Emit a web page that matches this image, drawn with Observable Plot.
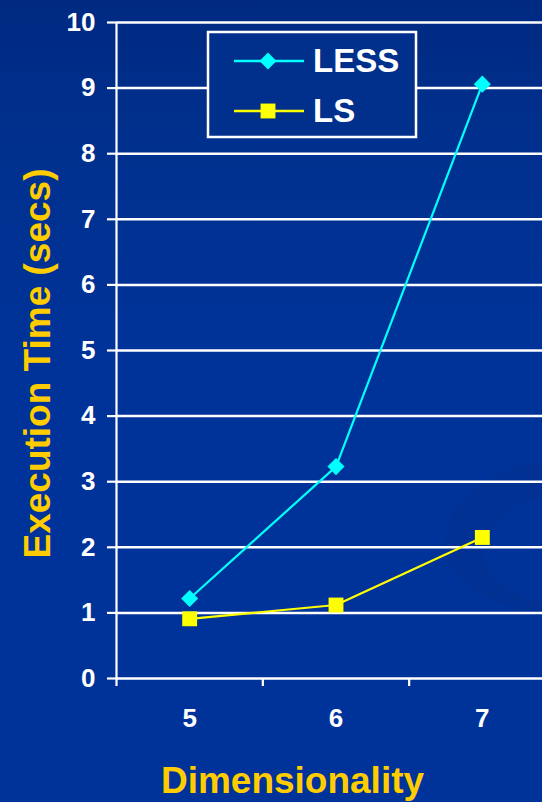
<!DOCTYPE html>
<html>
<head>
<meta charset="utf-8">
<script src="https://cdn.jsdelivr.net/npm/d3@7"></script>
<script src="https://cdn.jsdelivr.net/npm/@observablehq/plot@0.6"></script>
<style>
  html, body { margin: 0; padding: 0; }
  body {
    width: 542px; height: 802px; overflow: hidden; position: relative;
    background: linear-gradient(180deg, #002a82 0%, #003190 22%, #003399 45%, #003399 100%);
    font-family: "Liberation Sans", Arial, sans-serif;
  }
  #deco, #chart { position: absolute; left: 0; top: 0; }
</style>
</head>
<body>
<svg id="deco" width="542" height="802">
  <path d="M542,463 C480,466 436,515 446,556 C456,592 505,608 542,613 L542,602 C508,594 482,574 483,550 C485,524 512,502 542,497 Z" fill="#002f8e" opacity="0.55"/>
</svg>
<div id="chart"></div>
<script>
// Dimensionality of the data set and measured execution times (seconds)
const dims = [5, 6, 7];
const lessTimes = [1.22, 3.23, 9.06];
const lsTimes = [0.91, 1.12, 2.15];

const seriesNames = ["LESS", "LS"];
const seriesColors = ["#00ffff", "#ffff00"];
const seriesSymbols = ["diamond2", "square"];
const seriesRadius = [7.7, 8.4];

const yTicks = [0, 1, 2, 3, 4, 5, 6, 7, 8, 9, 10];
const xTickLabels = dims;
const xBandEdges = [4.5, 5.5, 6.5];

const xTitle = "Dimensionality";
const yTitle = "Execution Time (secs)";

const rows = [
  ...dims.map((d, i) => ({dim: d, time: lessTimes[i], series: "LESS"})),
  ...dims.map((d, i) => ({dim: d, time: lsTimes[i], series: "LS"}))
];

const font = "'Liberation Sans', Arial, sans-serif";
const titleColor = "#ffcc00";

// Legend box drawn in the upper left of the plotting area
function legend() {
  return () => {
    const g = d3.create("svg:g");
    const bx = 208, by = 32, bw = 208, bh = 105;
    g.append("rect")
      .attr("x", bx).attr("y", by).attr("width", bw).attr("height", bh)
      .attr("fill", "#002f8c").attr("stroke", "white").attr("stroke-width", 2.5);
    seriesNames.forEach((name, i) => {
      const cy = by + 29 + i * 50;
      g.append("line")
        .attr("x1", bx + 26).attr("x2", bx + 96).attr("y1", cy).attr("y2", cy)
        .attr("stroke", seriesColors[i]).attr("stroke-width", 2.5);
      const sym = seriesSymbols[i] === "square" ? d3.symbolSquare : d3.symbolDiamond2;
      const size = Math.PI * seriesRadius[i] * seriesRadius[i];
      g.append("path")
        .attr("transform", `translate(${bx + 60},${cy})`)
        .attr("d", d3.symbol(sym, size)())
        .attr("fill", seriesColors[i]);
      g.append("text")
        .attr("x", bx + 105).attr("y", cy + 11)
        .attr("text-anchor", "start")
        .attr("fill", "white").attr("font-size", 33).attr("font-weight", "bold")
        .attr("font-family", font)
        .text(name);
    });
    return g.node();
  };
}

const chart = Plot.plot({
  width: 542,
  height: 802,
  marginLeft: 116,
  marginRight: 0,
  marginTop: 22,
  marginBottom: 124,
  style: {background: "transparent", color: "white", fontFamily: font, overflow: "hidden"},
  x: {type: "linear", domain: [4.5, 7.5], range: [116, 555]},
  y: {domain: [0, 10], range: [678, 22]},
  color: {domain: seriesNames, range: seriesColors},
  symbol: {domain: seriesNames, range: seriesSymbols},
  marks: [
    Plot.ruleY(yTicks, {stroke: "white", strokeWidth: 2.5}),
    Plot.ruleX([4.5], {y1: 0, y2: 10, stroke: "white", strokeWidth: 2.2}),
    Plot.axisY({ticks: yTicks, tickSize: 9, tickPadding: 12, strokeWidth: 2.2,
      fontSize: 26, fontWeight: "bold", label: null}),
    Plot.axisX({ticks: xBandEdges, tickSize: 8, strokeWidth: 2.2, tickFormat: () => "", label: null}),
    Plot.axisX({ticks: xTickLabels, tickSize: 0, tickPadding: 30, fontSize: 26, fontWeight: "bold",
      tickFormat: d => String(d), label: null}),
    Plot.line(rows, {x: "dim", y: "time", z: "series", stroke: "series", strokeWidth: 2.2}),
    ...seriesNames.map((name, i) =>
      Plot.dot(rows.filter(r => r.series === name), {
        x: "dim", y: "time", symbol: "series", fill: "series", r: seriesRadius[i]
      })
    ),
    Plot.text([xTitle], {frameAnchor: "bottom", textAnchor: "middle", dx: -37, dy: 103, lineAnchor: "middle",
      fontSize: 37, fontWeight: "bold", fill: titleColor}),
    Plot.text([yTitle], {frameAnchor: "left", textAnchor: "middle", rotate: -90, dx: -78, dy: 13,
      lineAnchor: "middle", fontSize: 37, fontWeight: "bold", fill: titleColor}),
    legend()
  ]
});

document.getElementById("chart").appendChild(chart);
</script>
</body>
</html>
